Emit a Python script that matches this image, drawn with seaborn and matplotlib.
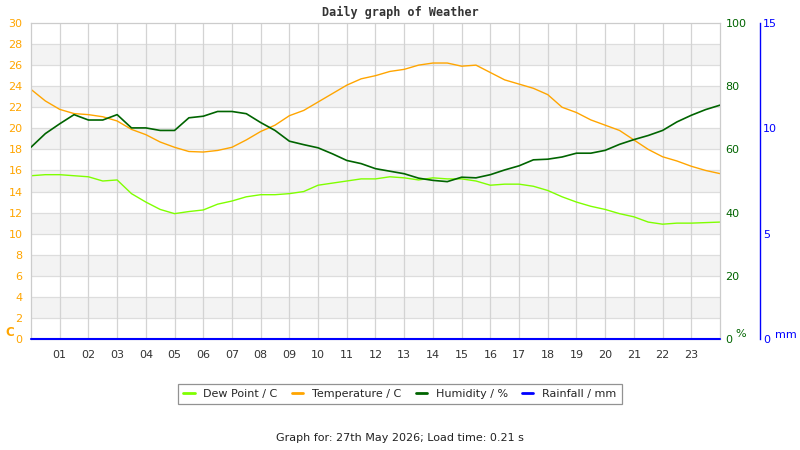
import numpy as np
import pandas as pd
import seaborn as sns
import matplotlib.pyplot as plt
from matplotlib.lines import Line2D

# half-hourly readings for the day
hours = [0, 0.5, 1, 1.5, 2, 2.5, 3, 3.5, 4, 4.5, 5, 5.5, 6, 6.5, 7, 7.5, 8, 8.5,
         9, 9.5, 10, 10.5, 11, 11.5, 12, 12.5, 13, 13.5, 14, 14.5, 15, 15.5, 16,
         16.5, 17, 17.5, 18, 18.5, 19, 19.5, 20, 20.5, 21, 21.5, 22, 22.5, 23, 23.5, 24]

temperature = [23.7, 22.6, 21.8, 21.4, 21.3, 21.1, 20.7, 19.9, 19.4, 18.7, 18.2, 17.8,
               17.75, 17.9, 18.2, 18.9, 19.7, 20.3, 21.2, 21.7, 22.5, 23.3, 24.1, 24.7,
               25.0, 25.4, 25.6, 26.0, 26.2, 26.2, 25.9, 26.0, 25.3, 24.6, 24.2, 23.8,
               23.2, 22.0, 21.5, 20.8, 20.3, 19.8, 18.9, 18.0, 17.3, 16.9, 16.4, 16.0, 15.7]

dew_point = [15.5, 15.6, 15.6, 15.5, 15.4, 15.0, 15.1, 13.8, 13.0, 12.3, 11.9, 12.1,
             12.25, 12.8, 13.1, 13.5, 13.7, 13.7, 13.8, 14.0, 14.6, 14.8, 15.0, 15.2,
             15.2, 15.4, 15.3, 15.1, 15.3, 15.2, 15.2, 15.0, 14.6, 14.7, 14.7, 14.5,
             14.1, 13.5, 13.0, 12.6, 12.3, 11.9, 11.6, 11.1, 10.9, 11.0, 11.0, 11.05, 11.1]

humidity = [60.7, 65.0, 68.1, 71.0, 69.3, 69.3, 71.0, 66.8, 66.8, 66.0, 66.0, 70.0,
            70.5, 72.0, 72.0, 71.3, 68.5, 66.0, 62.6, 61.5, 60.5, 58.6, 56.5, 55.5,
            53.9, 53.1, 52.3, 50.9, 50.2, 49.8, 51.2, 51.0, 52.0, 53.5, 54.8, 56.7,
            56.9, 57.6, 58.8, 58.8, 59.7, 61.6, 63.1, 64.4, 66.0, 68.7, 70.8, 72.6, 74.0]

rainfall = [0.0] * len(hours)

hour_labels = ['01', '02', '03', '04', '05', '06', '07', '08', '09', '10', '11', '12',
               '13', '14', '15', '16', '17', '18', '19', '20', '21', '22', '23']

df = pd.DataFrame({'hour': hours, 'temp': temperature, 'dew': dew_point,
                   'hum': humidity, 'rain': rainfall})

c_dew = '#7FFF00'
c_temp = '#FFA500'
c_hum = '#006400'
c_rain = '#0000FF'

sns.set_style('white')
plt.rcParams['font.family'] = ['DejaVu Sans']

fig = plt.figure(figsize=(8, 4.5), dpi=100)
ax = fig.add_axes([31 / 800, 111 / 450, 689 / 800, 316 / 450])

# alternating background bands + grid
for lo in range(2, 30, 4):
    ax.axhspan(lo, lo + 2, color='#F3F3F3', zorder=0, lw=0)
for y in range(2, 30, 2):
    ax.axhline(y, color='#DDDDDD', lw=0.9, zorder=0.5)
for h in range(1, 24):
    ax.axvline(h, color='#D3D3D3', lw=0.9, zorder=0.5)

sns.lineplot(data=df, x='hour', y='dew', ax=ax, color=c_dew, linewidth=1.0)
sns.lineplot(data=df, x='hour', y='temp', ax=ax, color=c_temp, linewidth=1.0)
ax.set_xlim(0, 24)
ax.set_ylim(0, 30)
ax.set_yticks(range(0, 31, 2))
ax.set_xticks(range(1, 24))
ax.set_xticklabels(hour_labels)
ax.tick_params(axis='y', length=0, pad=6, labelsize=8, labelcolor=c_temp)
ax.tick_params(axis='x', length=0, pad=8, labelsize=8, labelcolor='#333333')
ax.set_xlabel('')
ax.set_ylabel('')
for s in ax.spines.values():
    s.set_color('#CCCCCC')
    s.set_linewidth(0.9)

ax2 = ax.twinx()
sns.lineplot(data=df, x='hour', y='hum', ax=ax2, color=c_hum, linewidth=1.2)
ax2.set_ylim(0, 100)
ax2.set_yticks(range(0, 101, 20))
ax2.tick_params(axis='y', length=0, pad=4, labelsize=8, labelcolor=c_hum)
ax2.set_ylabel('')
for s in ax2.spines.values():
    s.set_visible(False)

ax3 = ax.twinx()
sns.lineplot(data=df, x='hour', y='rain', ax=ax3, color=c_rain, linewidth=1.5,
             clip_on=False)
ax3.set_ylim(0, 15)
ax3.set_yticks([0, 5, 10, 15])
ax3.spines['right'].set_position(('outward', 29))
for k in ['left', 'top', 'bottom']:
    ax3.spines[k].set_visible(False)
ax3.spines['right'].set_color(c_rain)
ax3.spines['right'].set_linewidth(1.0)
ax3.tick_params(axis='y', length=0, pad=2, labelsize=8, labelcolor=c_rain)
ax3.set_ylabel('')
ax.set_xlim(0, 24)

# unit labels
fig.text(5 / 800, 1 - 333 / 450, 'C', color=c_temp, fontsize=8.5, weight='bold',
         ha='left', va='center')
fig.text(735 / 800, 1 - 334 / 450, '%', color=c_hum, fontsize=8, ha='left', va='center')
fig.text(775 / 800, 1 - 335 / 450, 'mm', color=c_rain, fontsize=8, ha='left', va='center')

fig.text(0.5, 1 - 12 / 450, 'Daily graph of Weather', family='DejaVu Sans Mono',
         weight='bold', fontsize=8.5, color='#333333', ha='center', va='center')

handles = [Line2D([], [], color=c, lw=2.0) for c in [c_dew, c_temp, c_hum, c_rain]]
labels = ['Dew Point / C', 'Temperature / C', 'Humidity / %', 'Rainfall / mm']
leg = fig.legend(handles, labels, loc='center', bbox_to_anchor=(0.5, 1 - 394 / 450),
                 ncol=4, fontsize=8, frameon=True, fancybox=False, edgecolor='#777777',
                 handlelength=1.0, handletextpad=0.8, columnspacing=1.3,
                 borderpad=0.45)
leg.get_frame().set_linewidth(0.9)

fig.text(0.5, 1 - 438 / 450, 'Graph for: 27th May 2026; Load time: 0.21 s',
         fontsize=8, color='#222222', ha='center', va='center')

fig.savefig('out.png', dpi=100)
